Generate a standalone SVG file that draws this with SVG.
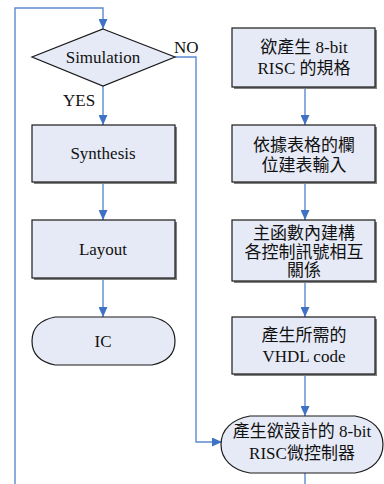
<svg xmlns="http://www.w3.org/2000/svg" width="384" height="484" viewBox="0 0 384 484">
<style>
.shape{fill:#E6EAF6;stroke:#1a1a1a;stroke-width:1.2}
.shadow{fill:#808080}
.t{font-family:"Liberation Serif","Noto Sans CJK TC",serif;font-size:17px;fill:#111;text-anchor:middle}
.lbl{font-family:"Liberation Serif",serif;font-size:17px;fill:#111}
.ln{fill:none;stroke:#5B8BD0;stroke-width:1.4}
</style>
<defs>
<marker id="ah" markerWidth="10" markerHeight="9" refX="10" refY="4.5" orient="auto" markerUnits="userSpaceOnUse">
<path d="M0,0 L10,4.5 L0,9 Z" fill="#3F72C4"/>
</marker>
</defs>
<g id="connectors">
<polyline class="ln" points="15,484 15,8 103,8 103,29" marker-end="url(#ah)"/>
<line class="ln" x1="103" y1="86" x2="103" y2="125" marker-end="url(#ah)"/>
<line class="ln" x1="103" y1="182" x2="103" y2="220" marker-end="url(#ah)"/>
<line class="ln" x1="103" y1="278" x2="103" y2="317" marker-end="url(#ah)"/>
<polyline class="ln" points="175,57 196,57 196,442 222,442" marker-end="url(#ah)"/>
<line class="ln" x1="305" y1="87" x2="305" y2="125" marker-end="url(#ah)"/>
<line class="ln" x1="305" y1="182" x2="305" y2="220" marker-end="url(#ah)"/>
<line class="ln" x1="305" y1="281" x2="305" y2="317" marker-end="url(#ah)"/>
<line class="ln" x1="305" y1="374" x2="305" y2="416" marker-end="url(#ah)"/>
<line class="ln" x1="305" y1="473" x2="305" y2="484"/>
<text class="lbl" x="174" y="53">NO</text>
<text class="lbl" x="63" y="106">YES</text>
</g>
<g id="simulation">
<polygon class="shape" points="103,29 175,57 103,86 32,57"/>
<text class="t" x="103" y="63">Simulation</text>
</g>
<g id="synthesis">
<rect class="shadow" x="34" y="127" width="143" height="57"/>
<rect class="shape" x="32" y="125" width="143" height="57"/>
<text class="t" x="103" y="159">Synthesis</text>
</g>
<g id="layout">
<rect class="shadow" x="34" y="222" width="143" height="58"/>
<rect class="shape" x="32" y="220" width="143" height="58"/>
<text class="t" x="103" y="255">Layout</text>
</g>
<g id="ic">
<path class="shape" d="M55,317 H152 C167,320 175,328 175,341 C175,354 167,362 152,365 H55 C40,362 32,354 32,341 C32,328 40,320 55,317 Z"/>
<text class="t" x="103" y="347">IC</text>
</g>
<g id="spec">
<rect class="shadow" x="234" y="30" width="143" height="59"/>
<rect class="shape" x="232" y="28" width="143" height="59"/>
<text class="t" x="304" y="53">欲產生 8-bit</text>
<text class="t" x="304" y="74">RISC 的規格</text>
</g>
<g id="table">
<rect class="shadow" x="234" y="127" width="143" height="57"/>
<rect class="shape" x="232" y="125" width="143" height="57"/>
<text class="t" x="304" y="151">依據表格的欄</text>
<text class="t" x="304" y="171">位建表輸入</text>
</g>
<g id="main">
<rect class="shadow" x="234" y="222" width="143" height="61"/>
<rect class="shape" x="232" y="220" width="143" height="61"/>
<text class="t" x="304" y="239">主函數內建構</text>
<text class="t" x="304" y="258">各控制訊號相互</text>
<text class="t" x="304" y="276">關係</text>
</g>
<g id="vhdl">
<rect class="shadow" x="234" y="319" width="143" height="57"/>
<rect class="shape" x="232" y="317" width="143" height="57"/>
<text class="t" x="304" y="341">產生所需的</text>
<text class="t" x="304" y="362">VHDL code</text>
</g>
<g id="risc">
<path class="shape" d="M250,416 H355 C373,419 383,430 383,444.5 C383,459 373,470 355,473 H250 C232,470 221,459 221,444.5 C221,430 232,419 250,416 Z"/>
<text class="t" x="302" y="437">產生欲設計的 8-bit</text>
<text class="t" x="302" y="459">RISC微控制器</text>
</g>
</svg>
